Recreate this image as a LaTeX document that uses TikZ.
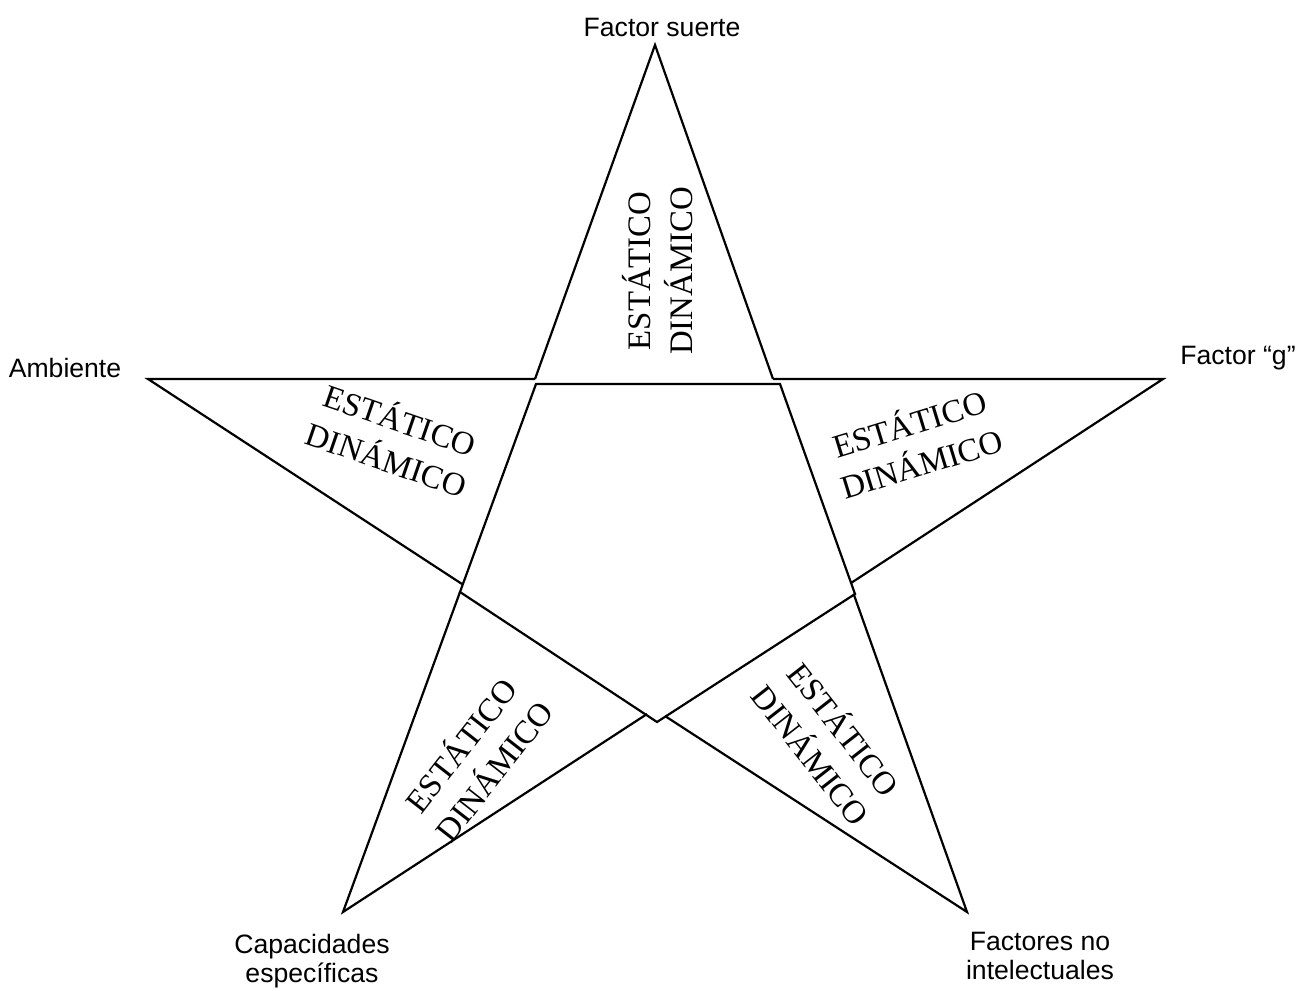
\documentclass[tikz,border=0pt]{standalone}
\usepackage{fontspec}
\setmainfont{Liberation Serif}
\newfontfamily\labelfont{Liberation Sans}
\begin{document}
\begin{tikzpicture}[x=0.5pt,y=-0.5pt,
  edge/.style={line width=1.1pt,line join=miter},
  arm/.style={font=\fontsize{16.4}{21}\selectfont,align=center,inner sep=0pt},
  tag/.style={font=\labelfont\fontsize{13.3}{14.6}\selectfont,align=center,inner sep=0pt}]
\useasboundingbox (0,0) rectangle (1304,990);
% outer points of the star
\coordinate (T)  at (655,45);
\coordinate (L)  at (148,379);
\coordinate (R)  at (1163,379);
\coordinate (BL) at (343,912);
\coordinate (BR) at (967,912);
% feet of the arms
\coordinate (tl) at (535,379);
\coordinate (tr) at (773,379);
\coordinate (lr) at (462,584);
\coordinate (rl) at (851,583);
\coordinate (bl1) at (460,592);
\coordinate (bl2) at (647,714);
\coordinate (br1) at (854,595);
\coordinate (br2) at (665,716);
% inner pentagon
\coordinate (P1) at (536,384);
\coordinate (P2) at (780,384);
\coordinate (P3) at (855,594);
\coordinate (P4) at (657,722);
\coordinate (P5) at (460,592);

% arms
\draw[edge] (tl) -- (T) -- (tr);
\draw[edge] (tl) -- (L) -- (lr);
\draw[edge] (tr) -- (R) -- (rl);
\draw[edge] (bl1) -- (BL) -- (bl2);
\draw[edge] (br1) -- (BR) -- (br2);
% centre
\draw[edge] (P1) -- (P2) -- (P3) -- (P4) -- (P5) -- cycle;

% arm texts
\node[arm,rotate=90]  (tTop) at (658,271) {ESTÁTICO\\DINÁMICO};
\node[arm,rotate=-19] (tL)   at (394,438) {ESTÁTICO\\DINÁMICO};
\node[arm,rotate=17]  (tR)   at (915,442) {ESTÁTICO\\DINÁMICO};
\node[arm,rotate=52]  (tBL)  at (476,757) {ESTÁTICO\\DINÁMICO};
\node[arm,rotate=-52] (tBR)  at (829,741) {ESTÁTICO\\DINÁMICO};

% point labels
\node[tag] (nT)  at (662,27)  {Factor suerte};
\node[tag] (nL)  at (65,368)  {Ambiente};
\node[tag] (nR)  at (1238,358) {Factor “g”};
\node[tag] (nBL) at (312,961) {Capacidades\\específicas};
\node[tag] (nBR) at (1040,956) {Factores no\\intelectuales};
\end{tikzpicture}
\end{document}
